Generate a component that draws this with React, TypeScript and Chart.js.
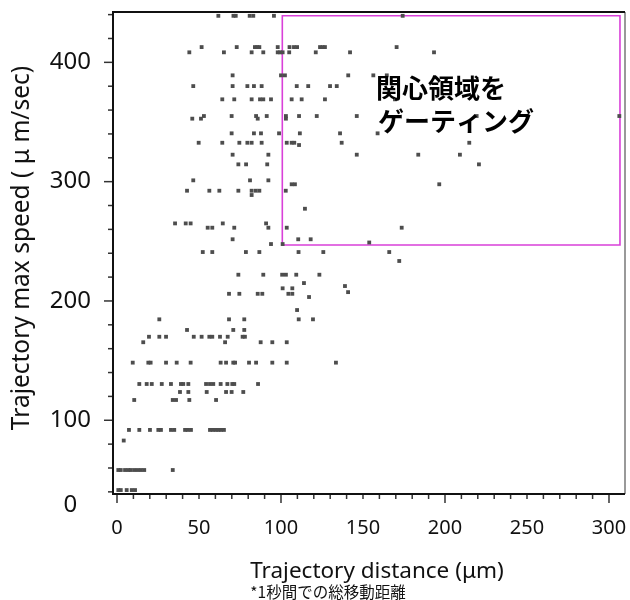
import { useEffect, useRef } from "react";
import { Chart, registerables } from "chart.js";

Chart.register(...registerables);

// Speed rows (μm/sec) and the distances (μm) of the points on each row
const speedRows = [
  439.0, 412.8, 408.4, 389.1, 380.1, 369.0, 355.0, 352.8, 340.5, 332.6, 330.7,
  322.6, 314.5, 301.1, 297.8, 292.4, 288.8, 277.3, 265.0, 261.4, 251.7, 249.0,
  247.7, 241.0, 233.5, 222.0, 215.0, 212.5, 210.6, 207.4, 206.0, 203.3, 192.4,
  184.6, 175.7, 170.0, 165.4, 148.3, 130.4, 123.7, 117.0, 91.9, 83.0, 58.3, 41.5,
];
const distanceRows = [
  [61.8, 71.0, 72.4, 80.9, 83.1, 95.7, 174.2],
  [51.6, 73.0, 84.1, 85.5, 86.8, 98.0, 105.2, 107.9, 109.8, 123.8, 125.4, 126.8, 170.5],
  [44.1, 65.2, 82.1, 89.2, 98.0, 99.4, 101.0, 105.0, 121.2, 142.1, 193.3],
  [70.5, 100.0, 102.4, 141.0, 156.3, 164.5],
  [46.5, 70.5, 79.5, 83.5, 88.2, 109.6, 116.6, 129.9, 134.0],
  [64.2, 71.5, 82.1, 87.2, 89.2, 93.9, 106.5, 112.6, 126.8, 169.5],
  [53.0, 69.9, 84.8, 91.3, 103.0, 111.0, 121.8, 146.2, 219.3, 306.3],
  [45.9, 51.2, 85.8, 103.0],
  [69.9, 83.5, 87.8, 98.8, 111.5, 136.0, 158.9],
  [49.8, 64.2, 74.6, 79.5, 82.1, 88.2, 103.5, 106.5, 108.1, 137.0, 214.8],
  [111.0],
  [70.5, 92.3, 146.2, 183.7, 209.1],
  [74.0, 78.7, 91.6, 220.7],
  [46.5, 81.1, 92.3],
  [106.5, 108.5, 196.5],
  [42.7, 56.3, 62.4, 74.0, 82.1, 84.6, 86.8, 102.9],
  [82.1],
  [114.6],
  [35.4, 41.9, 44.9, 64.5, 90.9],
  [55.3, 58.1, 71.5, 92.3, 103.5, 173.6],
  [70.5, 110.5, 118.1],
  [153.8],
  [93.9, 101.0],
  [52.3, 58.1, 78.6, 86.8, 110.7, 125.8, 166.0],
  [172.1],
  [74.0, 89.2, 100.7, 103.0, 109.3, 123.4],
  [114.0],
  [139.0],
  [101.0, 106.9],
  [140.9],
  [68.3, 74.6, 85.8, 88.6, 104.5, 106.9],
  [117.1],
  [109.8],
  [25.8, 68.3, 77.6, 110.8, 119.5],
  [42.7, 70.9, 77.6],
  [19.5, 25.8, 29.9, 46.8, 51.6, 56.3, 58.1, 62.8, 67.5, 76.6, 78.0],
  [16.0, 65.9, 87.6, 94.7, 103.5],
  [9.6, 19.1, 20.5, 29.9, 36.4, 44.9, 63.2, 66.5, 70.9, 72.0, 80.5, 84.8, 94.7, 103.5, 133.5],
  [13.6, 18.1, 21.2, 27.3, 32.9, 39.0, 40.4, 43.5, 54.3, 56.7, 58.7, 63.2, 67.3, 70.3, 71.5, 86.0],
  [38.4, 43.5, 54.7, 66.5, 69.9, 77.0],
  [10.5, 34.0, 36.0, 44.1, 60.4],
  [7.3, 13.6, 20.1, 25.2, 26.8, 32.9, 34.9, 41.5, 43.1, 45.1, 56.7, 58.4, 60.2, 61.8, 63.4, 65.2],
  [4.1],
  [0.8, 2.3, 4.9, 6.9, 8.4, 10.5, 12.6, 14.6, 16.6, 34.0],
  [0.8, 2.3, 5.9, 9.0, 11.0],
];

// Gating rectangle (data units)
const gateX = [100.8, 306.7, 306.7, 100.8, 100.8];
const gateY = [246.9, 246.9, 439.0, 439.0, 246.9];

// Axis ranges and tick labels
const xRange = [-2.44, 309.76];
const yRange = [38.2, 442.2];
const xTickLabels = [0, 50, 100, 150, 200, 250, 300];
const yTickLabels = [100, 200, 300, 400];
const yZeroLabelValue = 28.5;
const xMinorTicks = Array.from({ length: 31 }, (_, i) => i * 10);
const yMinorTicks = Array.from({ length: 21 }, (_, i) => 40 + i * 20);

const LATIN = '"Noto Sans", "DejaVu Sans", sans-serif';
const CJK = '"Noto Sans CJK JP", "Noto Sans", sans-serif';

const decorPlugin = {
  id: "decor",
  afterDraw(chart: any) {
    const { ctx, chartArea: a, scales } = chart;
    const xs = scales.x;
    const ys = scales.y;
    ctx.save();
    ctx.strokeStyle = "#333";
    ctx.lineWidth = 1.5;
    for (const v of xMinorTicks) {
      const px = xs.getPixelForValue(v);
      const len = v % 100 === 0 ? 9 : 5;
      ctx.beginPath();
      ctx.moveTo(px, a.bottom);
      ctx.lineTo(px, a.bottom + len);
      ctx.stroke();
    }
    for (const v of yMinorTicks) {
      const py = ys.getPixelForValue(v);
      const len = v % 100 === 0 ? 9 : 5;
      ctx.beginPath();
      ctx.moveTo(a.left, py);
      ctx.lineTo(a.left - len, py);
      ctx.stroke();
    }
    ctx.strokeStyle = "#777";
    ctx.lineWidth = 1.5;
    ctx.beginPath();
    ctx.moveTo(a.right, a.top);
    ctx.lineTo(a.right, a.bottom);
    ctx.stroke();
    ctx.strokeStyle = "#111";
    ctx.lineWidth = 2;
    ctx.beginPath();
    ctx.moveTo(a.right, a.top);
    ctx.lineTo(a.left, a.top);
    ctx.lineTo(a.left, a.bottom);
    ctx.lineTo(a.right, a.bottom);
    ctx.stroke();

    ctx.fillStyle = "#000";
    ctx.textBaseline = "middle";
    ctx.textAlign = "left";
    ctx.font = `bold 26px ${CJK}`;
    ctx.fillText("関心領域を", 376, 88);
    ctx.fillText("ゲーティング", 378, 121);

    ctx.fillStyle = "#111";
    ctx.textAlign = "center";
    ctx.font = `22.5px ${LATIN}`;
    ctx.fillText("Trajectory distance (μm)", 377, 572);
    ctx.font = `15.5px ${CJK}`;
    ctx.fillText("*1秒間での総移動距離", 328, 592);

    ctx.translate(22, 248);
    ctx.rotate(-Math.PI / 2);
    ctx.font = `24.5px ${LATIN}`;
    ctx.fillText("Trajectory max speed ( μ m/sec)", 0, 0);
    ctx.restore();
  },
};

export default function App() {
  const ref = useRef<HTMLCanvasElement>(null);
  useEffect(() => {
    if (!ref.current) return;
    const points: { x: number; y: number }[] = [];
    speedRows.forEach((s, i) => {
      distanceRows[i].forEach((d) => points.push({ x: d, y: s }));
    });
    const gate = gateX.map((x, i) => ({ x, y: gateY[i] }));
    const chart = new Chart(ref.current, {
      type: "scatter",
      data: {
        datasets: [
          {
            data: points,
            pointStyle: "rect",
            pointRadius: 2.7,
            pointHoverRadius: 2.7,
            backgroundColor: "#4d4d4d",
            borderWidth: 0,
          },
          {
            data: gate,
            showLine: true,
            pointRadius: 0,
            borderColor: "#d940d9",
            borderWidth: 1.6,
            fill: false,
          } as any,
        ],
      },
      options: {
        animation: false,
        responsive: false,
        events: [],
        layout: { padding: { top: 12, right: 5, left: 0, bottom: 0 } },
        plugins: { legend: { display: false }, tooltip: { enabled: false } },
        scales: {
          x: {
            type: "linear",
            min: xRange[0],
            max: xRange[1],
            grid: { display: false, drawTicks: false },
            border: { display: false },
            afterBuildTicks: (s: any) => {
              s.ticks = xTickLabels.map((v) => ({ value: v }));
            },
            afterFit: (s: any) => {
              s.height = 106;
              s.paddingLeft = 0;
              s.paddingRight = 0;
            },
            ticks: {
              autoSkip: false,
              maxRotation: 0,
              padding: 22,
              color: "#111",
              font: { family: LATIN, size: 20 },
              callback: (v: any) => String(v),
            },
          },
          y: {
            type: "linear",
            min: yRange[0],
            max: yRange[1],
            grid: { display: false, drawTicks: false },
            border: { display: false },
            afterBuildTicks: (s: any) => {
              s.ticks = [{ value: yZeroLabelValue }, ...yTickLabels.map((v) => ({ value: v }))];
            },
            afterFit: (s: any) => {
              s.width = 113;
              s.paddingTop = 0;
              s.paddingBottom = 0;
            },
            ticks: {
              autoSkip: false,
              padding: 22,
              crossAlign: "center",
              color: "#111",
              font: { family: LATIN, size: 24 },
              callback: (v: any) => (v === yZeroLabelValue ? "0" : String(v)),
            },
          },
        },
      },
      plugins: [decorPlugin],
    });
    return () => chart.destroy();
  }, []);
  return (
    <div style={{ position: "absolute", left: 0, top: 0, width: 630, height: 600, background: "#fff" }}>
      <canvas ref={ref} width={630} height={600} style={{ display: "block" }} />
    </div>
  );
}
